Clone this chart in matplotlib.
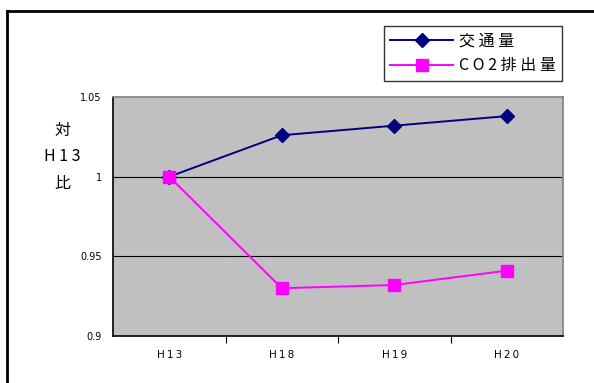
import matplotlib
import matplotlib.pyplot as plt
from matplotlib.lines import Line2D
matplotlib.use('Agg')

plt.rcParams['font.family'] = ['Noto Sans CJK JP', 'DejaVu Sans']

categories = ['H13', 'H18', 'H19', 'H20']
traffic = [1.0, 1.026, 1.032, 1.038]
co2 = [1.0, 0.930, 0.932, 0.941]
y_ticks = [0.9, 0.95, 1.0, 1.05]
y_tick_labels = ['0.9', '0.95', '1', '1.05']
series_names = ['交 通 量', 'C O 2 排 出 量']

W, H = 594, 383
fig = plt.figure(figsize=(W / 100, H / 100), dpi=100)

# plot area in pixels: left 113, right 563, top 97, bottom 336
ax = fig.add_axes([113 / W, 1 - 336 / H, 450 / W, 239 / H])
ax.set_facecolor('#c0c0c0')

x = list(range(len(categories)))
ax.plot(x, traffic, color='#000080', marker='D', markersize=7, linewidth=1.4,
        label=series_names[0])
ax.plot(x, co2, color='#ff00ff', marker='s', markersize=9, linewidth=1.4,
        label=series_names[1])

ax.set_xlim(-0.5, 3.5)
ax.set_ylim(0.9, 1.05)
ax.set_yticks(y_ticks)
ax.set_yticklabels(y_tick_labels, fontsize=7, family=['DejaVu Sans'])
for yv in [0.95, 1.0]:
    ax.axhline(yv, color='black', linewidth=0.8, zorder=1)

ax.set_xticks([0.5, 1.5, 2.5])
ax.set_xticklabels([])
ax.tick_params(axis='x', direction='out', length=5, width=0.8, color='black')
ax.tick_params(axis='y', length=0, pad=8)
for i, c in enumerate(categories):
    ax.text(i, 0.9 - 0.012, c[0] + '\u2009' + c[1] + '\u2009' + c[2],
            ha='center', va='center', fontsize=7.5, family=['DejaVu Sans'])

ax.spines['top'].set_color('#808080')
ax.spines['right'].set_color('#808080')
ax.spines['left'].set_color('black')
ax.spines['bottom'].set_color('black')
for s in ax.spines.values():
    s.set_linewidth(1.2)

fig.text(62 / W, 1 - 157 / H, '対\nH 1 3\n比', ha='center', va='center',
         fontsize=11.5, linespacing=1.7)

leg = fig.legend(loc='upper left', bbox_to_anchor=(384 / W, 1 - 26 / H),
                 frameon=True, fancybox=False, fontsize=11.5, borderpad=0.4,
                 handlelength=3.9, labelspacing=0.5, handletextpad=0.4,
                 borderaxespad=0)
leg.get_frame().set_edgecolor('black')
leg.get_frame().set_linewidth(1.0)

# outer chart border
fig.add_artist(Line2D([7 / W, 1], [1 - 11 / H, 1 - 11 / H], color='black',
                      linewidth=2, transform=fig.transFigure))
fig.add_artist(Line2D([7 / W, 7 / W], [0, 1 - 11 / H], color='black',
                      linewidth=2, transform=fig.transFigure))

fig.savefig('out.png', dpi=100)
